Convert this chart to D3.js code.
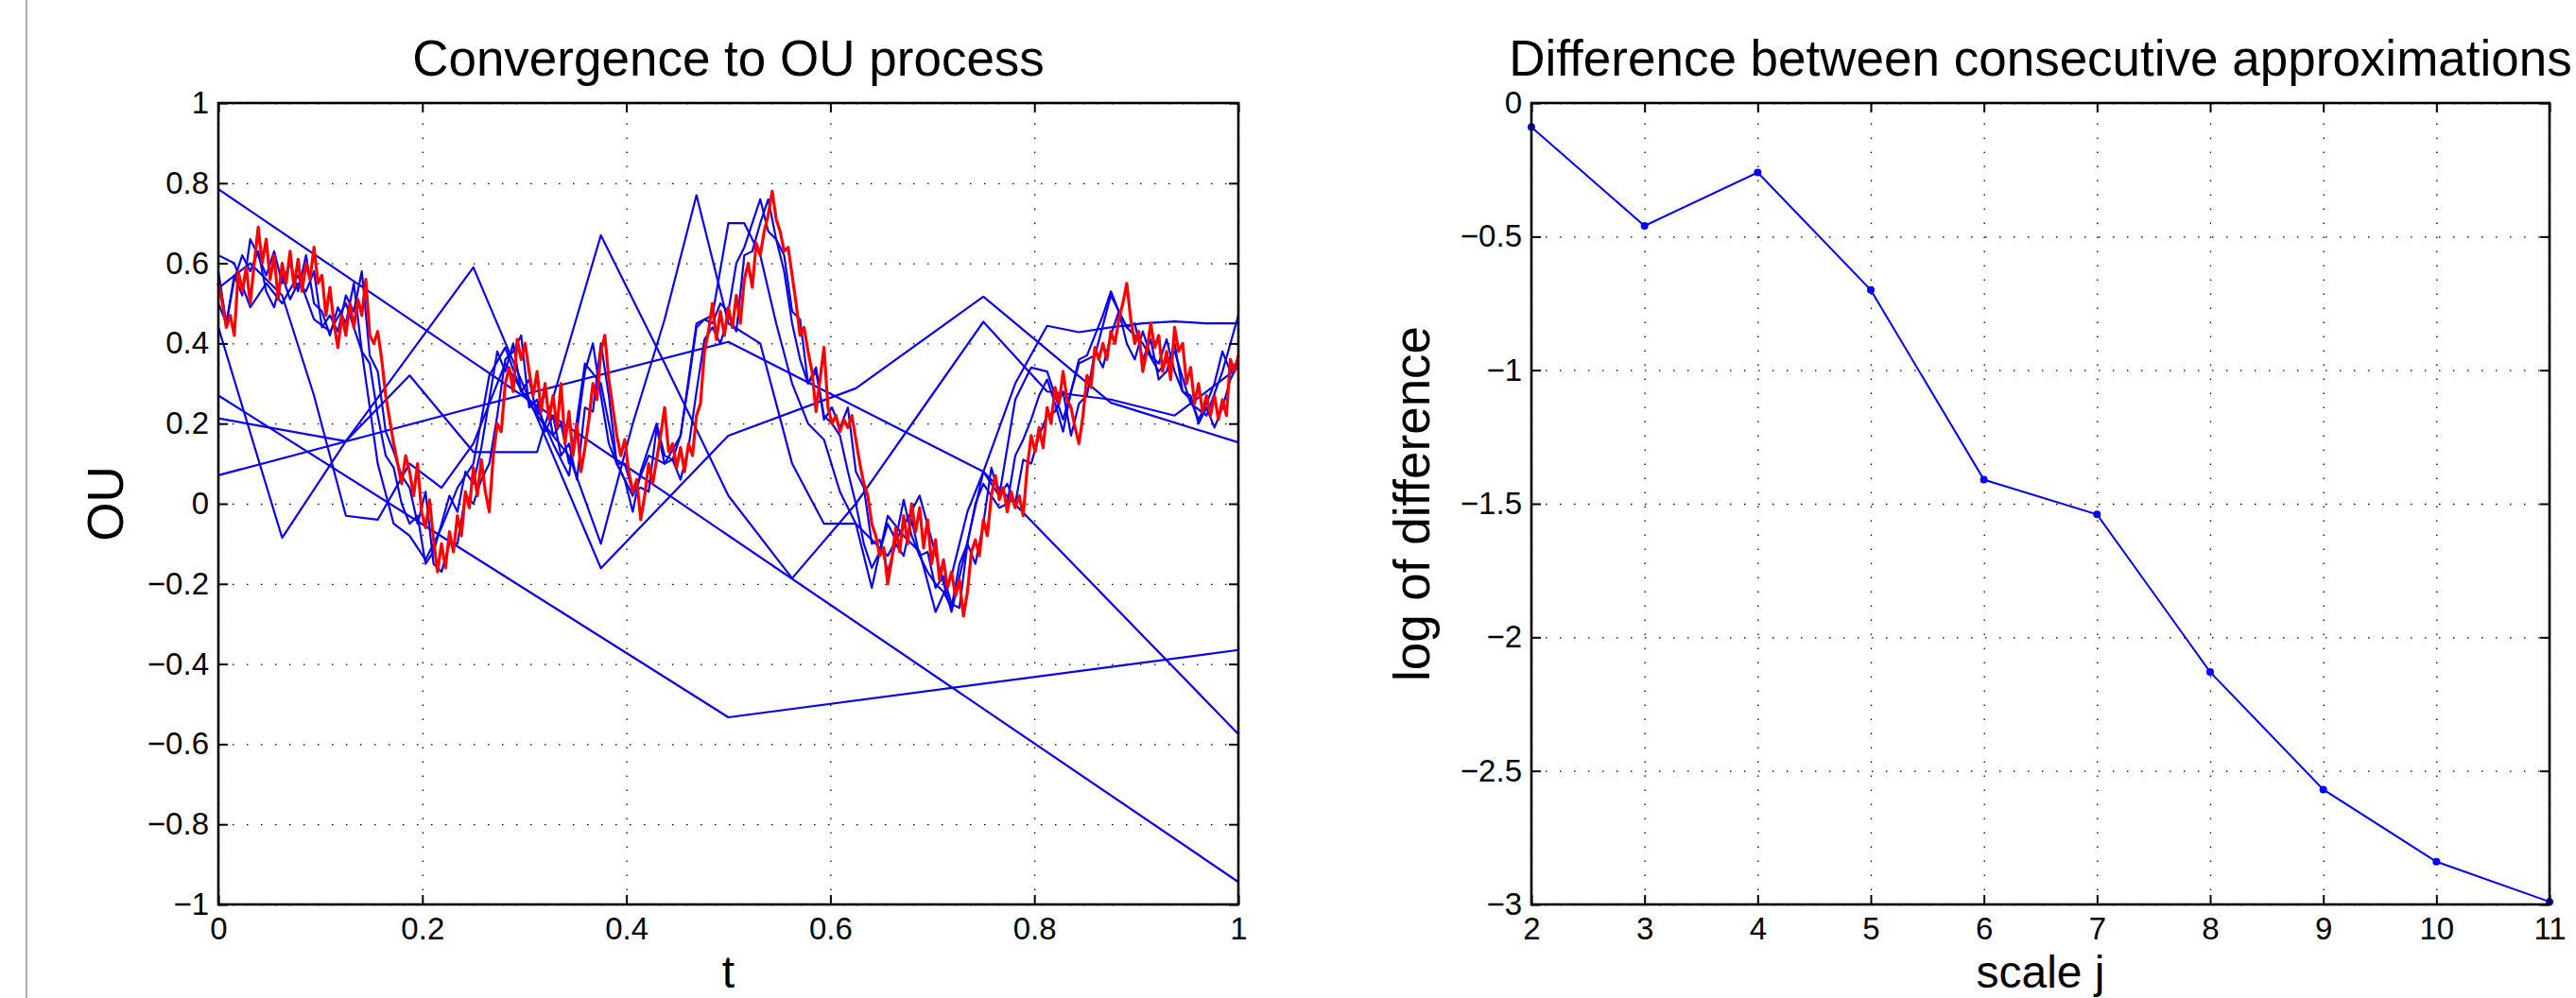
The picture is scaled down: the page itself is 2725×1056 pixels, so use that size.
<!DOCTYPE html>
<html>
<head>
<meta charset="utf-8">
<script src="https://cdn.jsdelivr.net/npm/d3@7"></script>
<style>
  body { margin: 0; background: #fff; }
  svg { display: block; font-family: "Liberation Sans", Arial, sans-serif; }
  .grid path, .ticks path { display: none; }
  .grid line { stroke: #000; stroke-width: 1.3; stroke-dasharray: 1.5 13.5; }
  .ticks line { stroke: #000; stroke-width: 2; }
  .ticks text { font-size: 33px; fill: #000; }
</style>
</head>
<body>
<div class="chart"></div>
<script>
// ---- data ----
var t_ticks = [0, 0.2, 0.4, 0.6, 0.8, 1];
var ou_ticks = [-1, -0.8, -0.6, -0.4, -0.2, 0, 0.2, 0.4, 0.6, 0.8, 1];

// the target OU path (red), on a grid of 257 points over [0,1]
var ou_path = [
  0.55, 0.50, 0.44, 0.47, 0.42, 0.58, 0.53, 0.59, 0.50, 0.60, 0.69, 0.60, 0.66, 0.56, 0.62, 0.51,
  0.60, 0.55, 0.63, 0.54, 0.61, 0.53, 0.60, 0.56, 0.64, 0.55, 0.57, 0.47, 0.54, 0.45, 0.39, 0.47,
  0.42, 0.50, 0.44, 0.51, 0.47, 0.56, 0.42, 0.40, 0.43, 0.36, 0.27, 0.21, 0.15, 0.10, 0.05, 0.12,
  0.08, 0.02, 0.10, -0.02, -0.06, 0.01, -0.09, -0.17, -0.10, -0.16, -0.07, -0.12, -0.03, -0.08, 0.03, -0.01,
  0.09, 0.02, 0.11, 0.03, -0.02, 0.12, 0.20, 0.18, 0.30, 0.34, 0.28, 0.41, 0.36, 0.40, 0.33, 0.27,
  0.33, 0.23, 0.30, 0.21, 0.27, 0.19, 0.30, 0.15, 0.23, 0.12, 0.20, 0.08, 0.14, 0.21, 0.30, 0.26,
  0.38, 0.42, 0.31, 0.24, 0.17, 0.12, 0.16, 0.08, 0.03, 0.06, -0.04, 0.02, 0.10, 0.05, 0.11, 0.17,
  0.24, 0.13, 0.15, 0.09, 0.14, 0.08, 0.15, 0.12, 0.22, 0.25, 0.38, 0.43, 0.50, 0.41, 0.48, 0.42,
  0.49, 0.44, 0.52, 0.45, 0.56, 0.60, 0.54, 0.65, 0.62, 0.68, 0.72, 0.78, 0.71, 0.68, 0.63, 0.64,
  0.57, 0.50, 0.42, 0.44, 0.38, 0.33, 0.23, 0.31, 0.39, 0.24, 0.20, 0.22, 0.18, 0.21, 0.19, 0.22,
  0.16, 0.10, 0.05, 0.02, -0.05, -0.08, -0.13, -0.11, -0.20, -0.14, -0.06, -0.12, -0.03, -0.10, 0.00, -0.07,
  -0.01, -0.11, -0.04, -0.15, -0.09, -0.19, -0.14, -0.21, -0.17, -0.23, -0.19, -0.28, -0.22, -0.12, -0.09, -0.13,
  -0.04, -0.08, 0.02, 0.07, 0.01, 0.04, -0.02, 0.03, -0.01, 0.02, -0.03, 0.09, 0.17, 0.13, 0.19, 0.14,
  0.24, 0.20, 0.29, 0.25, 0.33, 0.26, 0.24, 0.19, 0.15, 0.22, 0.32, 0.29, 0.39, 0.36, 0.40, 0.36,
  0.43, 0.40, 0.46, 0.50, 0.55, 0.46, 0.40, 0.43, 0.33, 0.38, 0.45, 0.39, 0.42, 0.33, 0.38, 0.31,
  0.44, 0.38, 0.40, 0.30, 0.34, 0.25, 0.30, 0.23, 0.27, 0.22, 0.27, 0.21, 0.26, 0.22, 0.36, 0.33,
  0.37
];

// the approximations (blue), each on its own even grid over [0,1]
var approx_0 = [0.785, -0.944];
var approx_1 = [0.27, -0.533, -0.365];
var approx_2 = [0.071, 0.24, 0.404, 0.08, -0.575];
var approx_3 = [0.213, 0.156, 0.59, -0.161, 0.17, 0.288, 0.517, 0.252, 0.153];
var approx_4 = [0.44, -0.085, 0.156, 0.32, 0.129, 0.129, 0.67, 0.35, 0.02, -0.186, 0.0, 0.227, 0.454, 0.28, 0.26, 0.22, 0.34];
var approx_5 = [0.538, 0.60, 0.52, 0.27, -0.03, -0.04, 0.10, 0.04, 0.15, 0.35, 0.22, 0.12, -0.10, 0.20, 0.46, 0.77,
  0.45, 0.40, 0.10, -0.05, -0.05, -0.13, 0.02, -0.27, 0.08, 0.30, 0.444, 0.428, 0.44, 0.45, 0.455, 0.45, 0.45];
var approx_6 = [
  0.62, 0.60, 0.49, 0.55, 0.50, 0.57, 0.46, 0.43, 0.50, 0.38, 0.10, -0.05, -0.08, -0.14, -0.06, 0.04,
  0.10, 0.32, 0.39, 0.28, 0.24, 0.15, 0.07, 0.35, 0.30, 0.10, 0.02, 0.12, 0.10, 0.17, 0.45, 0.47,
  0.70, 0.70, 0.62, 0.45, 0.30, 0.20, 0.16, 0.03, -0.05, -0.21, -0.03, -0.08, -0.12, -0.27, -0.18, -0.02,
  0.08, 0.02, 0.26, 0.34, 0.33, 0.21, 0.35, 0.37, 0.52, 0.44, 0.40, 0.33, 0.38, 0.25, 0.22, 0.33,
  0.47
];
var approx_7 = [
  0.58, 0.45, 0.57, 0.52, 0.66, 0.62, 0.57, 0.63, 0.55, 0.60, 0.53, 0.62, 0.50, 0.48, 0.42, 0.49,
  0.45, 0.55, 0.38, 0.35, 0.22, 0.12, 0.09, 0.00, -0.05, -0.03, -0.15, -0.12, -0.05, 0.02, -0.02, 0.08,
  0.05, 0.14, 0.26, 0.38, 0.33, 0.40, 0.28, 0.31, 0.22, 0.28, 0.17, 0.20, 0.10, 0.18, 0.33, 0.40,
  0.27, 0.15, 0.10, 0.06, -0.02, 0.08, 0.14, 0.20, 0.12, 0.11, 0.17, 0.30, 0.44, 0.46, 0.45, 0.50,
  0.48, 0.60, 0.64, 0.70, 0.76, 0.68, 0.66, 0.58, 0.45, 0.36, 0.30, 0.33, 0.22, 0.20, 0.17, 0.08,
  0.00, -0.10, -0.16, -0.12, -0.05, -0.09, 0.01, -0.08, -0.13, -0.17, -0.20, -0.22, -0.26, -0.15, -0.10, 0.00,
  0.05, 0.02, -0.01, 0.00, 0.12, 0.16, 0.21, 0.27, 0.31, 0.25, 0.18, 0.28, 0.36, 0.37, 0.42, 0.47,
  0.53, 0.48, 0.40, 0.36, 0.43, 0.37, 0.35, 0.41, 0.33, 0.28, 0.26, 0.21, 0.25, 0.30, 0.38, 0.33,
  0.36
];
var approx_8 = [
  0.50, 0.45, 0.56, 0.62, 0.58, 0.63, 0.53, 0.49, 0.57, 0.51, 0.55, 0.53, 0.58, 0.44, 0.47, 0.43,
  0.52, 0.48, 0.58, 0.37, 0.33, 0.18, 0.13, 0.07, 0.04, -0.05, 0.03, -0.15, -0.17, -0.10, -0.10, 0.02,
  0.00, 0.06, 0.10, 0.22, 0.36, 0.38, 0.42, 0.24, 0.26, 0.18, 0.22, 0.12, 0.15, 0.06, 0.24, 0.23,
  0.40, 0.27, 0.10, 0.10, 0.03, 0.04, 0.03, 0.19, 0.10, 0.11, 0.06, 0.14, 0.28, 0.41, 0.44, 0.40,
  0.47, 0.43, 0.62, 0.63, 0.70, 0.76, 0.66, 0.62, 0.48, 0.46, 0.30, 0.34, 0.21, 0.24, 0.19, 0.24,
  0.08, 0.04, -0.10, -0.09, -0.17, -0.10, -0.13, -0.04, -0.13, -0.12, -0.21, -0.18, -0.25, -0.26, -0.10, -0.15,
  -0.05, 0.09, 0.02, 0.05, 0.00, 0.11, 0.10, 0.17, 0.22, 0.23, 0.28, 0.17, 0.25, 0.27, 0.38, 0.34,
  0.42, 0.48, 0.44, 0.45, 0.36, 0.41, 0.31, 0.33, 0.40, 0.28, 0.27, 0.20, 0.24, 0.19, 0.24, 0.31,
  0.35
];
var approximations = [approx_0, approx_1, approx_2, approx_3, approx_4, approx_5, approx_6, approx_7, approx_8];

var scale_j = [2, 3, 4, 5, 6, 7, 8, 9, 10, 11];
var log_diff = [-0.09, -0.46, -0.26, -0.70, -1.41, -1.54, -2.13, -2.57, -2.84, -2.99];
var diff_ticks = [-3, -2.5, -2, -1.5, -1, -0.5, 0];

// ---- drawing ----
var W = 2725, H = 1056;

var svg = d3.select('.chart').append('svg')
    .attr('width', W)
    .attr('height', H);

svg.append('rect').attr('width', W).attr('height', H).attr('fill', '#fff');

// thin frame edge seen at the far left of the figure
svg.append('line')
    .attr('x1', 28).attr('x2', 28)
    .attr('y1', 0).attr('y2', H)
    .attr('stroke', '#b0b0b0').attr('stroke-width', 2);

function num(v){
  var s = String(Math.round(Math.abs(v) * 10) / 10);
  return (v < 0 ? '\u2212' : '') + s;
}

// one matlab-like axes box; returns the scales
function panel(o){
  var x = d3.scaleLinear().domain(o.xdomain).range([o.left, o.right]),
      y = d3.scaleLinear().domain(o.ydomain).range([o.bottom, o.top]),
      g = svg.append('g'),
      h = o.bottom - o.top,
      w = o.right - o.left;

  // dotted grid
  g.append('g').attr('class', 'grid')
      .attr('transform', 'translate(0,' + o.bottom + ')')
      .call(d3.axisBottom(x).tickValues(o.xticks).tickSize(-h).tickFormat(''));
  g.append('g').attr('class', 'grid')
      .attr('transform', 'translate(' + o.left + ',0)')
      .call(d3.axisLeft(y).tickValues(o.yticks).tickSize(-w).tickFormat(''));

  var plot = g.append('g');

  // box
  g.append('rect')
      .attr('x', o.left).attr('y', o.top)
      .attr('width', w).attr('height', h)
      .attr('fill', 'none').attr('stroke', '#000').attr('stroke-width', 2.6);

  // ticks pointing inward on all four sides, labels left and bottom
  g.append('g').attr('class', 'ticks')
      .attr('transform', 'translate(0,' + o.bottom + ')')
      .call(d3.axisBottom(x).tickValues(o.xticks).tickSizeInner(-10).tickSizeOuter(0)
        .tickPadding(14).tickFormat(num));
  g.append('g').attr('class', 'ticks')
      .attr('transform', 'translate(0,' + o.top + ')')
      .call(d3.axisTop(x).tickValues(o.xticks).tickSizeInner(-10).tickSizeOuter(0).tickFormat(''));
  g.append('g').attr('class', 'ticks')
      .attr('transform', 'translate(' + o.left + ',0)')
      .call(d3.axisLeft(y).tickValues(o.yticks).tickSizeInner(-10).tickSizeOuter(0)
        .tickPadding(10).tickFormat(num));
  g.append('g').attr('class', 'ticks')
      .attr('transform', 'translate(' + o.right + ',0)')
      .call(d3.axisRight(y).tickValues(o.yticks).tickSizeInner(-10).tickSizeOuter(0).tickFormat(''));

  // title and labels
  g.append('text')
      .attr('x', (o.left + o.right) / 2).attr('y', 80)
      .attr('text-anchor', 'middle')
      .style('font-size', '53px')
      .text(o.title);
  g.append('text')
      .attr('x', (o.left + o.right) / 2).attr('y', 1045)
      .attr('text-anchor', 'middle')
      .style('font-size', '48px')
      .text(o.xlabel);
  g.append('text')
      .attr('transform', 'translate(' + o.ylabelX + ',' + (o.top + o.bottom) / 2 + ') rotate(-90)')
      .attr('text-anchor', 'middle')
      .style('font-size', '53px')
      .text(o.ylabel);

  return { x: x, y: y, plot: plot };
}

// left: convergence to the OU process
var left = panel({
  left: 231, right: 1310, top: 109, bottom: 957,
  xdomain: [0, 1], ydomain: [-1, 1],
  xticks: t_ticks, yticks: ou_ticks,
  title: 'Convergence to OU process', xlabel: 't', ylabel: 'OU', ylabelX: 130
});

var grid_line = d3.line()
    .x(function(d, i, arr){ return left.x(i / (arr.length - 1)); })
    .y(function(d){ return left.y(d); });

left.plot.selectAll('.approx')
    .data(approximations)
  .enter().append('path')
    .attr('class', 'approx')
    .attr('d', grid_line)
    .attr('fill', 'none')
    .attr('stroke', '#0a00f0')
    .attr('stroke-width', 2.2)
    .attr('stroke-linejoin', 'round');

left.plot.append('path')
    .datum(ou_path)
    .attr('d', grid_line)
    .attr('fill', 'none')
    .attr('stroke', '#ff0000')
    .attr('stroke-width', 3.2)
    .attr('stroke-linejoin', 'round');

// right: difference between consecutive approximations
var right = panel({
  left: 1620, right: 2697, top: 109, bottom: 957,
  xdomain: [2, 11], ydomain: [-3, 0],
  xticks: scale_j, yticks: diff_ticks,
  title: 'Difference between consecutive approximations', xlabel: 'scale j',
  ylabel: 'log of difference', ylabelX: 1512
});

var pts = scale_j.map(function(j, i){ return [j, log_diff[i]]; });

right.plot.append('path')
    .datum(pts)
    .attr('d', d3.line()
      .x(function(d){ return right.x(d[0]); })
      .y(function(d){ return right.y(d[1]); }))
    .attr('fill', 'none')
    .attr('stroke', '#0000ff')
    .attr('stroke-width', 2);

right.plot.selectAll('.dot')
    .data(pts)
  .enter().append('circle')
    .attr('class', 'dot')
    .attr('cx', function(d){ return right.x(d[0]); })
    .attr('cy', function(d){ return right.y(d[1]); })
    .attr('r', 4)
    .attr('fill', '#0000ff');
</script>
</body>
</html>
